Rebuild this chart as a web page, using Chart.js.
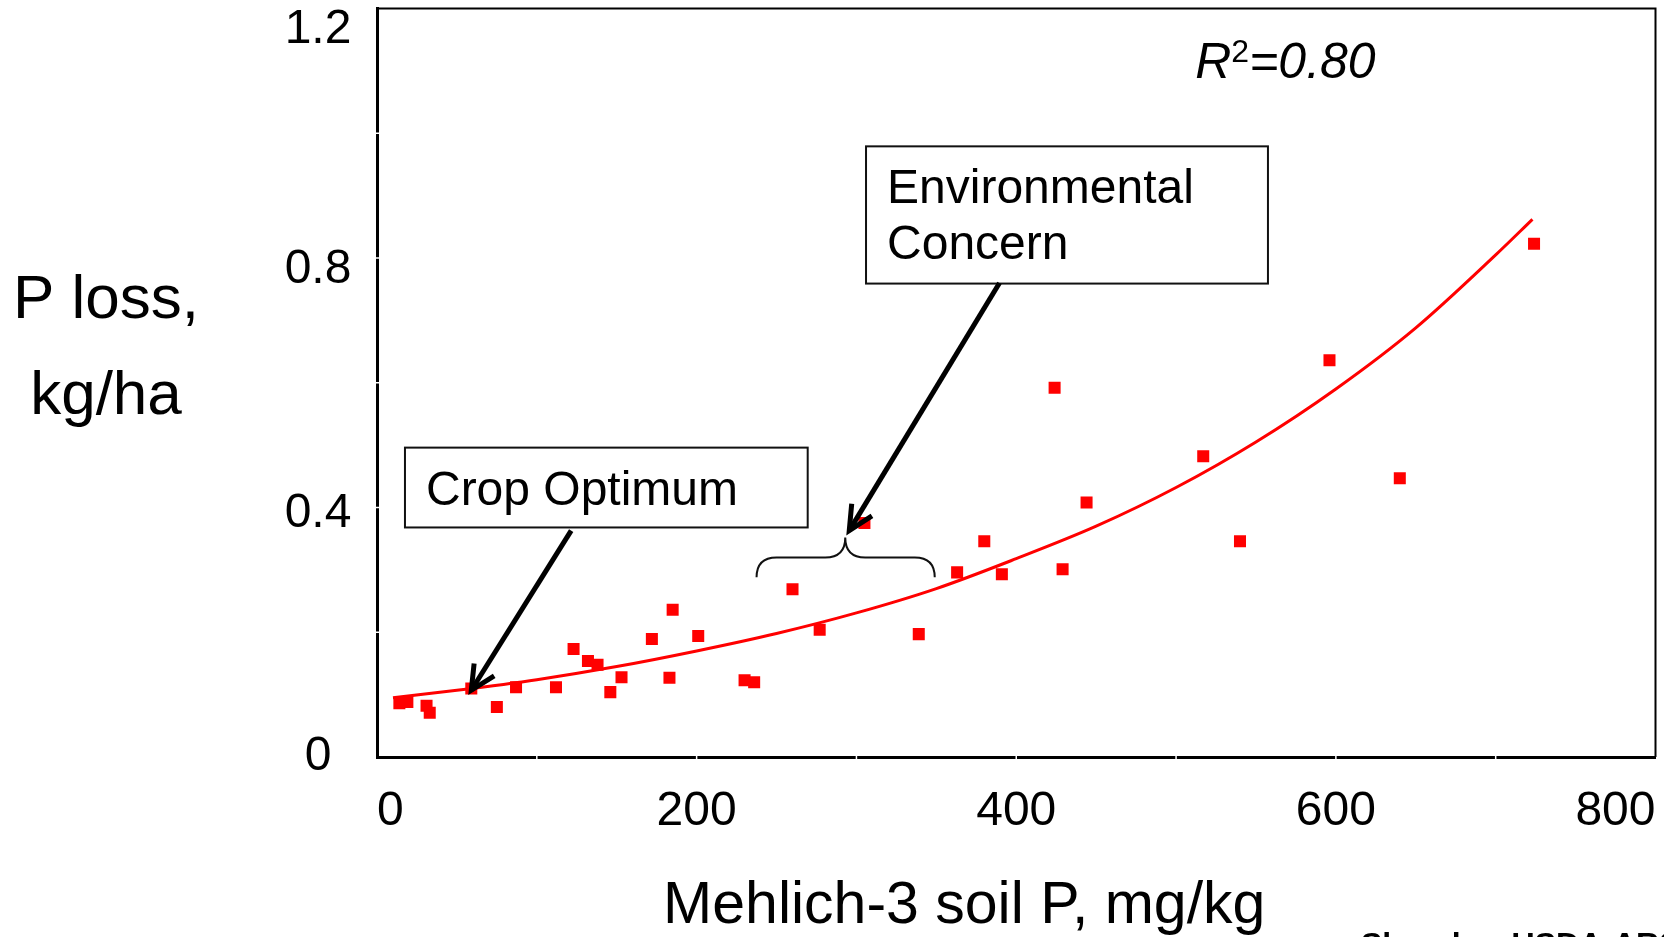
<!DOCTYPE html>
<html>
<head>
<meta charset="utf-8">
<title>P loss vs Mehlich-3 soil P</title>
<script src="https://cdn.jsdelivr.net/npm/chart.js"></script>
<style>
  html, body { margin: 0; padding: 0; background: #fff; }
  #wrap { width: 1664px; height: 937px; }
</style>
</head>
<body>
<div id="wrap"><canvas id="chart" width="1664" height="937"></canvas></div>
<script>
// Mehlich-3 soil P (mg/kg) against P loss (kg/ha)
const soilP = [14, 19, 31, 33, 59, 75, 87, 112, 123, 132, 138, 146, 153, 172, 185, 183, 201, 230, 236, 260,
               277, 305, 339, 363, 380, 391, 424, 429, 444, 517, 540, 596, 640, 724];
const pLoss = [0.086, 0.088, 0.082, 0.071, 0.110, 0.080, 0.112, 0.112, 0.173, 0.154, 0.148, 0.104, 0.128, 0.189,
               0.236, 0.127, 0.194, 0.123, 0.120, 0.269, 0.204, 0.375, 0.197, 0.296, 0.346, 0.293, 0.592, 0.301,
               0.408, 0.482, 0.346, 0.636, 0.447, 0.823];

// fitted curve, read at intervals along the red line
const trendX = [10, 50, 100, 150, 200, 250, 300, 350, 400, 450, 500, 550, 600, 650, 700, 723];
const trendY = [0.095, 0.107, 0.124, 0.145, 0.170, 0.198, 0.231, 0.270, 0.318, 0.370, 0.432, 0.505, 0.590, 0.688, 0.805, 0.862];

const xTickLabels = [0, 200, 400, 600, 800];
const yTickLabels = [0, 0.4, 0.8, 1.2];

const FONT = '"Liberation Sans", Arial, sans-serif';
const RED = '#ff0000';


const annotations = {
    id: 'annotations',

    afterDraw( chart ) {
        const { ctx, chartArea: a, scales: { x, y } } = chart;
        const px = v => x.getPixelForValue( v );
        const py = v => y.getPixelForValue( v );

        ctx.save();

        // top and right edges of the plot box
        ctx.strokeStyle = '#000';
        ctx.lineWidth = 2;
        ctx.beginPath();
        ctx.moveTo( a.left, a.top );
        ctx.lineTo( a.right, a.top );
        ctx.lineTo( a.right, a.bottom );
        ctx.stroke();

        // small light breaks on the axes where the ticks sit
        ctx.strokeStyle = '#fff';
        ctx.lineWidth = 1.5;
        for ( let v = 100; v < 800; v += 100 ) {
            ctx.beginPath();
            ctx.moveTo( px( v ), a.bottom - 4 );
            ctx.lineTo( px( v ), a.bottom + 4 );
            ctx.stroke();
        }
        for ( let v = 0.2; v < 1.1; v += 0.2 ) {
            ctx.beginPath();
            ctx.moveTo( a.left - 4, py( v ) );
            ctx.lineTo( a.left + 4, py( v ) );
            ctx.stroke();
        }

        // tick labels
        ctx.fillStyle = '#000';
        ctx.font = `48px ${FONT}`;
        ctx.textBaseline = 'middle';
        ctx.textAlign = 'center';
        yTickLabels.forEach( v => {
            // labels sit a little low, and the top one is kept inside the box
            const yy = Math.max( py( v ) + v * 15, a.top + 21 );
            ctx.fillText( String( v ), a.left - 59, yy );
        } );
        xTickLabels.forEach( v => {
            const s = String( v );
            const w = ctx.measureText( s ).width;
            let xx = px( v );
            xx = Math.min( Math.max( xx, a.left + w / 2 ), a.right - w / 2 );
            ctx.fillText( s, xx, a.bottom + 55 );
        } );

        // axis titles
        ctx.textBaseline = 'alphabetic';
        ctx.font = `59px ${FONT}`;
        ctx.fillText( 'Mehlich-3 soil P, mg/kg', ( a.left + a.right ) / 2 - 52, a.bottom + 166 );
        ctx.font = `62px ${FONT}`;
        ctx.fillText( 'P loss,', 106, 318 );
        ctx.fillText( 'kg/ha', 106, 414 );

        // R squared
        ctx.textAlign = 'left';
        let rx = px( 512 );
        const ry = py( 1.088 );
        ctx.font = `italic 50px ${FONT}`;
        ctx.fillText( 'R', rx, ry );
        rx += ctx.measureText( 'R' ).width;
        ctx.font = `32px ${FONT}`;
        ctx.fillText( '2', rx, ry - 16 );
        rx += ctx.measureText( '2' ).width;
        ctx.font = `italic 50px ${FONT}`;
        ctx.fillText( '=0.80', rx, ry );

        // label boxes
        function box( x0, x1, y0, y1, lines ) {
            const l = px( x0 ), r = px( x1 ), t = py( y0 ), b = py( y1 );
            ctx.fillStyle = '#fff';
            ctx.fillRect( l, t, r - l, b - t );
            ctx.strokeStyle = '#111';
            ctx.lineWidth = 2;
            ctx.strokeRect( l, t, r - l, b - t );
            ctx.fillStyle = '#000';
            ctx.font = `48px ${FONT}`;
            lines.forEach( ( s, i ) => ctx.fillText( s, l + 21, t + 57 + i * 56 ) );
        }
        box( 17.5, 269.5, 0.496, 0.368, [ 'Crop Optimum' ] );
        box( 306, 557.5, 0.979, 0.759, [ 'Environmental', 'Concern' ] );

        // arrows
        function arrow( x0, y0, x1, y1 ) {
            const sx = px( x0 ), sy = py( y0 ), tx = px( x1 ), ty = py( y1 );
            const ang = Math.atan2( sy - ty, sx - tx );
            const len = 27, spread = 26 * Math.PI / 180;
            ctx.strokeStyle = '#000';
            ctx.lineWidth = 5;
            ctx.lineJoin = 'miter';
            ctx.beginPath();
            ctx.moveTo( sx, sy );
            ctx.lineTo( tx, ty );
            ctx.stroke();
            ctx.beginPath();
            ctx.moveTo( tx + len * Math.cos( ang - spread ), ty + len * Math.sin( ang - spread ) );
            ctx.lineTo( tx, ty );
            ctx.lineTo( tx + len * Math.cos( ang + spread ), ty + len * Math.sin( ang + spread ) );
            ctx.stroke();
        }
        arrow( 121.5, 0.363, 59, 0.107 );
        arrow( 389.5, 0.76, 295.5, 0.363 );

        // brace over the environmental concern range
        const bl = px( 237.5 ), br = px( 349 ), bm = px( 293 );
        const yEnd = py( 0.288 ), yBar = py( 0.32 ), yTop = py( 0.352 );
        const rad = 20;
        ctx.lineWidth = 2;
        ctx.strokeStyle = '#111';
        ctx.beginPath();
        ctx.moveTo( bl, yEnd );
        ctx.quadraticCurveTo( bl, yBar, bl + rad, yBar );
        ctx.lineTo( bm - rad, yBar );
        ctx.quadraticCurveTo( bm, yBar, bm, yTop );
        ctx.quadraticCurveTo( bm, yBar, bm + rad, yBar );
        ctx.lineTo( br - rad, yBar );
        ctx.quadraticCurveTo( br, yBar, br, yEnd );
        ctx.stroke();

        // source credit, mostly cut off at the bottom edge
        ctx.fillStyle = '#000';
        ctx.font = `bold 32px ${FONT}`;
        ctx.textBaseline = 'alphabetic';
        ctx.fillText( 'Sharpley, USDA-ARS', 1361, 955 );

        ctx.restore();
    }
};


const ctx = document.getElementById( 'chart' ).getContext( '2d' );

new Chart( ctx, {
    type: 'scatter',
    data: {
        datasets: [
            {
                label: 'P loss',
                data: soilP.map( ( v, i ) => ( { x: v, y: pLoss[i] } ) ),
                pointStyle: 'rect',
                pointRadius: 8.5,
                pointBorderWidth: 0,
                backgroundColor: RED,
                borderColor: RED
            },
            {
                label: 'Fit',
                type: 'line',
                data: trendX.map( ( v, i ) => ( { x: v, y: trendY[i] } ) ),
                borderColor: RED,
                borderWidth: 3,
                pointRadius: 0,
                cubicInterpolationMode: 'monotone',
                fill: false
            }
        ]
    },
    options: {
        responsive: false,
        animation: false,
        devicePixelRatio: 1,
        layout: {
            padding: { left: 377, top: 7, right: 6, bottom: 180 }
        },
        scales: {
            x: {
                type: 'linear',
                min: 0,
                max: 800,
                grid: { display: false, drawTicks: false },
                ticks: { display: false, stepSize: 100 },
                border: { display: true, color: '#000', width: 3 }
            },
            y: {
                type: 'linear',
                min: 0,
                max: 1.2,
                grid: { display: false, drawTicks: false },
                ticks: { display: false, stepSize: 0.2 },
                border: { display: true, color: '#000', width: 3 }
            }
        },
        plugins: {
            legend: { display: false },
            tooltip: { enabled: false }
        }
    },
    plugins: [ annotations ]
} );
</script>
</body>
</html>
